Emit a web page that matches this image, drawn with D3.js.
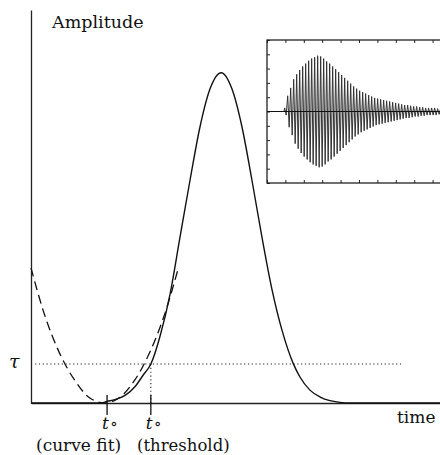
<!DOCTYPE html>
<html>
<head>
<meta charset="utf-8">
<script src="https://cdn.jsdelivr.net/npm/d3@7"></script>
<style>
  body { margin: 0; background: #fff; }
  text { font-family: 'DejaVu Serif'; fill: #111; }
</style>
</head>
<body>
<script>
// main pulse (time, amplitude)
const pulseTime = [0, 1.7, 1.86, 2.05, 2.30, 2.54, 2.74, 2.93, 3.15, 3.40, 3.64, 3.89, 4.13, 4.38, 4.65,
  4.91, 5.16, 5.40, 5.65, 5.89, 6.14, 6.41, 6.58, 6.82, 7.07, 7.31, 7.55, 7.80, 10];
const pulseAmp = [0, 0, 0.005, 0.010, 0.023, 0.049, 0.084, 0.118, 0.20, 0.33, 0.50, 0.676, 0.835, 0.952, 1.0,
  0.952, 0.835, 0.676, 0.50, 0.345, 0.219, 0.12, 0.078, 0.039, 0.018, 0.007, 0.002, 0, 0];

// dashed parabola fit
const fitTime = [0, 0.34, 0.71, 1.08, 1.44, 1.83, 2.18, 2.54, 2.91, 3.28, 3.59];
const fitAmp = [0.409, 0.264, 0.148, 0.067, 0.015, 0, 0.018, 0.070, 0.155, 0.273, 0.403];

const tau = 0.118;
const t0Fit = 1.86;
const t0Thresh = 2.93;

// inset burst: amplitude of each cycle
const burstStart = 0.92;
const burstPeriod = 0.163;
const burstAmp = [0.05, 0.22, 0.33, 0.45, 0.52, 0.58, 0.63, 0.67, 0.71, 0.74, 0.76, 0.78, 0.77, 0.74, 0.70,
  0.67, 0.63, 0.59, 0.55, 0.51, 0.47, 0.43, 0.39, 0.35, 0.32, 0.29, 0.27, 0.25, 0.23, 0.21, 0.19, 0.18,
  0.17, 0.16, 0.15, 0.14, 0.13, 0.12, 0.11, 0.10, 0.09, 0.09, 0.08, 0.07, 0.07, 0.06, 0.06, 0.05, 0.05,
  0.05, 0.05, 0.04, 0.04, 0.04, 0.04];

const width = 440;
const height = 455;

const svg = d3.select('body').append('svg')
  .attr('width', width)
  .attr('height', height);

const x = d3.scaleLinear().domain([0, 10]).range([31, 440]);
const y = d3.scaleLinear().domain([0, 1.19]).range([403, 10]);

// axes, no ticks
svg.append('g')
  .attr('transform', `translate(0,${y(0)})`)
  .call(d3.axisBottom(x).tickValues([]).tickSizeOuter(0))
  .select('.domain').attr('stroke', '#222').attr('stroke-width', 1.3);
svg.append('g')
  .attr('transform', `translate(${x(0)},0)`)
  .call(d3.axisLeft(y).tickValues([]).tickSizeOuter(0))
  .select('.domain').attr('stroke', '#222').attr('stroke-width', 1.3);

// threshold line
svg.append('line')
  .attr('x1', x(0.1)).attr('x2', x(9.1))
  .attr('y1', y(tau)).attr('y2', y(tau))
  .attr('stroke', '#222').attr('stroke-width', 1.1)
  .attr('stroke-dasharray', '1.2,2.6');
svg.append('line')
  .attr('x1', x(t0Thresh)).attr('x2', x(t0Thresh))
  .attr('y1', y(tau)).attr('y2', y(0))
  .attr('stroke', '#222').attr('stroke-width', 1.1)
  .attr('stroke-dasharray', '1.2,2.6');

const line = d3.line()
  .x(d => x(d[0]))
  .y(d => y(d[1]))
  .curve(d3.curveMonotoneX);

svg.append('path')
  .datum(fitTime.map((t, i) => [t, fitAmp[i]]))
  .attr('d', d3.line().x(d => x(d[0])).y(d => y(d[1])).curve(d3.curveCatmullRom))
  .attr('fill', 'none')
  .attr('stroke', '#111')
  .attr('stroke-width', 1.3)
  .attr('stroke-dasharray', '9,5');

svg.append('path')
  .datum(pulseTime.map((t, i) => [t, pulseAmp[i]]))
  .attr('d', line)
  .attr('fill', 'none')
  .attr('stroke', '#111')
  .attr('stroke-width', 1.4);

// t0 tick marks
[t0Fit, t0Thresh].forEach(t => {
  svg.append('line')
    .attr('x1', x(t)).attr('x2', x(t))
    .attr('y1', y(0) - 8).attr('y2', y(0) + 12)
    .attr('stroke', '#111').attr('stroke-width', 1.3);
});

// labels
svg.append('text').attr('x', 52).attr('y', 28).attr('font-size', 17.5).text('Amplitude');
svg.append('text').attr('x', 397).attr('y', 423).attr('font-size', 17).text('time');
svg.append('text').attr('x', 9).attr('y', 368).attr('font-size', 19)
  .attr('font-style', 'italic').text('τ');

const t0Label = (t) => {
  svg.append('text').attr('x', x(t) - 5).attr('y', 429).attr('font-size', 17)
    .attr('font-style', 'italic').text('t');
  svg.append('text').attr('x', x(t) + 3).attr('y', 429).attr('font-size', 16).text('∘');
};
t0Label(t0Fit);
t0Label(t0Thresh);
svg.append('text').attr('x', 36).attr('y', 451).attr('font-size', 17).text('(curve fit)');
svg.append('text').attr('x', 137).attr('y', 451).attr('font-size', 16.5).text('(threshold)');

// inset
const ix = d3.scaleLinear().domain([0, 10]).range([267, 451]);
const iy = d3.scaleLinear().domain([-1, 1]).range([183, 40]);
const inset = svg.append('g');

inset.append('rect')
  .attr('x', ix(0)).attr('y', iy(1))
  .attr('width', ix(10) - ix(0)).attr('height', iy(-1) - iy(1))
  .attr('fill', '#fff').attr('stroke', '#222').attr('stroke-width', 1.3);

const xt = d3.range(0, 11, 1);
const yt = d3.range(-1, 1.01, 0.2);
const styleAxis = g => {
  g.select('.domain').remove();
  g.selectAll('.tick line').attr('stroke', '#222').attr('stroke-width', 1);
};
inset.append('g').attr('transform', `translate(0,${iy(1)})`)
  .call(d3.axisTop(ix).tickValues(xt).tickSize(-3).tickFormat('')).call(styleAxis);
inset.append('g').attr('transform', `translate(0,${iy(-1)})`)
  .call(d3.axisBottom(ix).tickValues(xt).tickSize(-3).tickFormat('')).call(styleAxis);
inset.append('g').attr('transform', `translate(${ix(0)},0)`)
  .call(d3.axisLeft(iy).tickValues(yt).tickSize(-3).tickFormat('')).call(styleAxis);

const burstPts = [[0, 0], [burstStart, 0]];
burstAmp.forEach((a, k) => {
  const t = burstStart + k * burstPeriod;
  burstPts.push([t + burstPeriod * 0.25, a]);
  burstPts.push([t + burstPeriod * 0.75, -a]);
});

inset.append('path')
  .datum(burstPts)
  .attr('d', d3.line().x(d => ix(d[0])).y(d => iy(d[1])))
  .attr('fill', 'none')
  .attr('stroke', '#333')
  .attr('stroke-width', 1);

// baseline through the burst
inset.append('line')
  .attr('x1', ix(0)).attr('x2', ix(10))
  .attr('y1', iy(0)).attr('y2', iy(0))
  .attr('stroke', '#111').attr('stroke-width', 1.2);
</script>
</body>
</html>
